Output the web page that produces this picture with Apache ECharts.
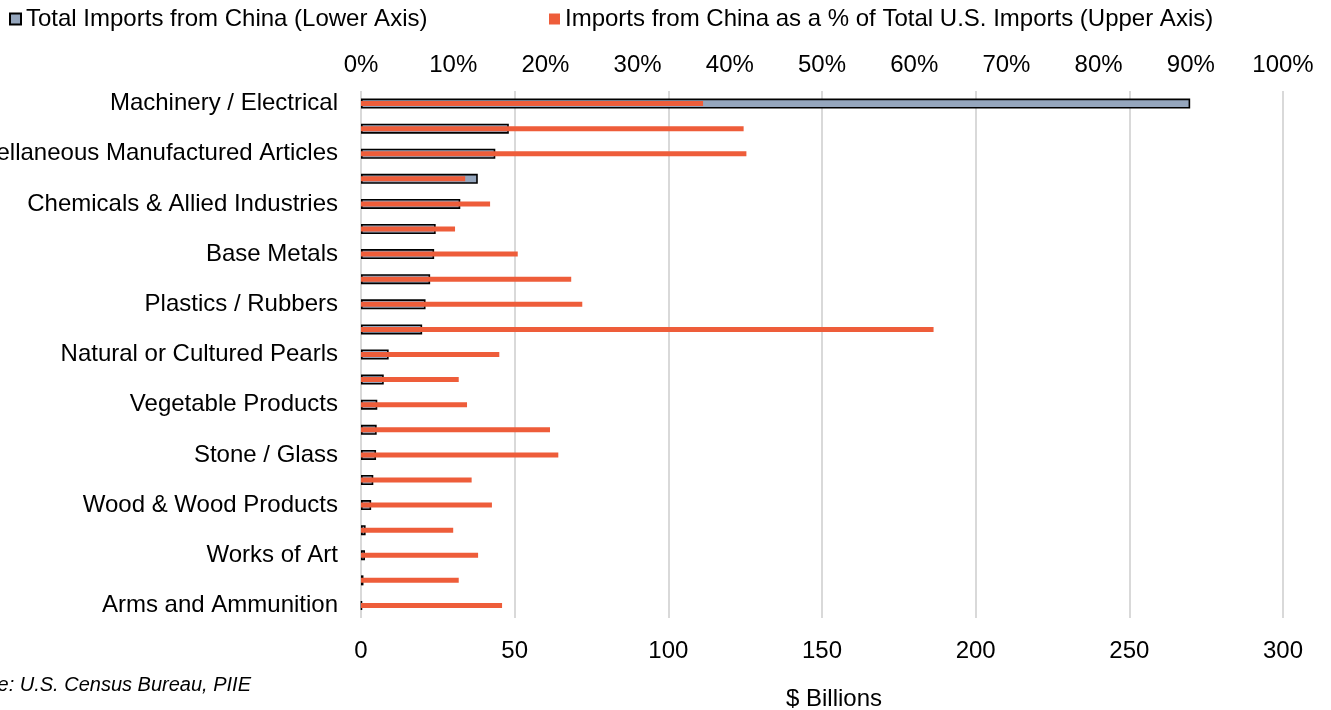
<!DOCTYPE html>
<html>
<head>
<meta charset="utf-8">
<title>U.S. Imports from China by Product Section</title>
<script src="https://cdn.jsdelivr.net/npm/echarts@6/dist/echarts.min.js"></script>
<style>
  html, body { margin: 0; padding: 0; background: #ffffff; }
  #chart { width: 1331px; height: 710px; }
</style>
</head>
<body>
<div id="chart"></div>
<script>
// Product sections, largest import value first
const categories = [
  'Machinery / Electrical',
  'Textiles',
  'Miscellaneous Manufactured Articles',
  'Transportation',
  'Chemicals & Allied Industries',
  'Instruments',
  'Base Metals',
  'Raw Hides, Skins, Leather & Furs',
  'Plastics / Rubbers',
  'Footwear / Headgear',
  'Natural or Cultured Pearls',
  'Foodstuffs',
  'Vegetable Products',
  'Pulp & Paper',
  'Stone / Glass',
  'Mineral Products',
  'Wood & Wood Products',
  'Animal Products',
  'Works of Art',
  'Animal & Vegetable Fats',
  'Arms and Ammunition'
];

// Total imports from China, $ billions (lower axis)
const totalImports = [
  269.8, 48.1, 43.7, 38.0, 32.3, 24.3, 23.8, 22.5, 21.0, 19.9, 9.0,
  7.4, 5.3, 5.1, 4.9, 4.0, 3.3, 1.5, 1.3, 0.8, 0.3
];

// China's share of total U.S. imports in each section, % (upper axis)
const shareOfImports = [
  37.1, 41.5, 41.8, 11.3, 14.0, 10.2, 17.0, 22.8, 24.0, 62.1, 15.0,
  10.6, 11.5, 20.5, 21.4, 12.0, 14.2, 10.0, 12.7, 10.6, 15.3
];

// Axis ticks
const lowerTicks = { min: 0, max: 300, interval: 50 };
const upperTicks = { min: 0, max: 100, interval: 10 };

const seriesNames = [
  'Total Imports from China (Lower Axis)',
  'Imports from China as a % of Total U.S. Imports (Upper Axis)'
];

const FONT = '"Liberation Sans", Arial, Helvetica, sans-serif';
const FS = 24;
const chart = echarts.init(document.getElementById('chart'), null, { renderer: 'canvas' });

const legendText = { fontFamily: FONT, fontSize: FS, color: '#000' };

chart.setOption({
  animation: false,
  backgroundColor: '#ffffff',
  textStyle: { fontFamily: FONT },
  legend: [
    {
      data: [seriesNames[0]], left: 9, top: 7, padding: 0,
      icon: 'rect', itemWidth: 11, itemHeight: 11, itemGap: 4,
      textStyle: legendText
    },
    {
      data: [seriesNames[1]], left: 549, top: 7, padding: 0,
      icon: 'rect', itemWidth: 11, itemHeight: 11, itemGap: 4,
      textStyle: legendText
    }
  ],
  // fixed plot box; long category names may run past the left edge
  grid: { left: 361, right: 48, top: 91, height: 527, containLabel: false, outerBoundsMode: 'none' },
  xAxis: [
    {
      type: 'value', position: 'bottom',
      min: lowerTicks.min, max: lowerTicks.max, interval: lowerTicks.interval,
      axisLine: { show: false }, axisTick: { show: false },
      axisLabel: { fontFamily: FONT, fontSize: FS, color: '#000', margin: 21 },
      splitLine: { show: true, lineStyle: { color: '#d9d9d9', width: 2 } },
      name: '$ Billions', nameLocation: 'middle', nameGap: 69,
      nameTextStyle: { fontFamily: FONT, fontSize: FS, color: '#000', padding: [0, 0, 0, 24] }
    },
    {
      type: 'value', position: 'top',
      min: upperTicks.min, max: upperTicks.max, interval: upperTicks.interval,
      axisLine: { show: false }, axisTick: { show: false },
      axisLabel: { fontFamily: FONT, fontSize: FS, color: '#000', margin: 14, formatter: '{value}%' },
      splitLine: { show: false }
    }
  ],
  yAxis: [
    {
      type: 'category', inverse: true, data: categories,
      axisLine: { show: false }, axisTick: { show: false },
      axisLabel: { interval: 1, fontFamily: FONT, fontSize: FS, color: '#000', margin: 23 }
    },
    {
      type: 'category', inverse: true, data: categories, show: false
    }
  ],
  series: [
    {
      name: seriesNames[0], type: 'bar',
      xAxisIndex: 0, yAxisIndex: 0,
      data: totalImports, barWidth: 10, z: 2,
      itemStyle: { color: '#95a6bd', borderColor: '#000000', borderWidth: 1.6 }
    },
    {
      name: seriesNames[1], type: 'bar',
      xAxisIndex: 1, yAxisIndex: 1,
      data: shareOfImports, barWidth: 5, z: 3,
      itemStyle: { color: '#ee5d3a' }
    }
  ],
  graphic: [
    {
      type: 'text', right: 1331 - 251, top: 675,
      style: {
        text: 'Source: U.S. Census Bureau, PIIE',
        font: 'italic 20px ' + FONT, fill: '#000', textAlign: 'right'
      }
    }
  ]
});
</script>
</body>
</html>
